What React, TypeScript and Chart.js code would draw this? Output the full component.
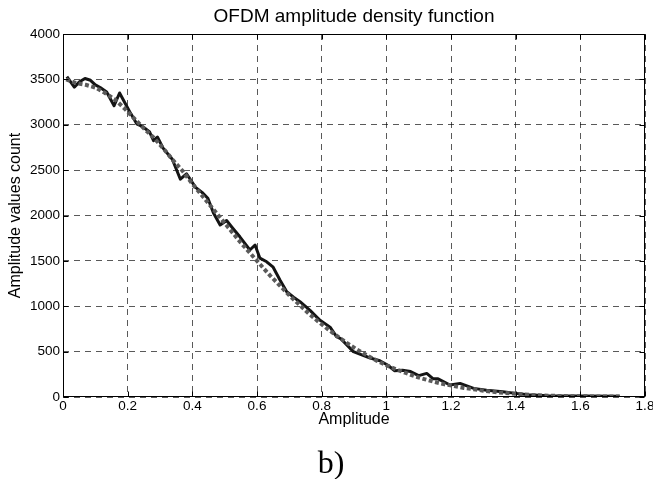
import React, { useEffect, useRef } from "react";
import { Chart, registerables } from "chart.js";

Chart.register(...registerables);

const titleText = "OFDM amplitude density function";
const xAxisTitle = "Amplitude";
const yAxisTitle = "Amplitude values count";
const panelLabel = "b)";

const xTicks = [0, 0.2, 0.4, 0.6, 0.8, 1, 1.2, 1.4, 1.6, 1.8];
const yTicks = [0, 500, 1000, 1500, 2000, 2500, 3000, 3500, 4000];

// measured histogram (solid black)
const measuredX = [
  0.012, 0.035, 0.05, 0.068, 0.085, 0.1, 0.115, 0.135, 0.158, 0.175, 0.19, 0.21,
  0.228, 0.248, 0.268, 0.28, 0.292, 0.31, 0.338, 0.363, 0.382, 0.41, 0.43, 0.448,
  0.465, 0.486, 0.506, 0.525, 0.547, 0.578, 0.594, 0.609, 0.63, 0.65, 0.671, 0.692,
  0.713, 0.733, 0.764, 0.795, 0.826, 0.846, 0.86, 0.898, 0.92, 0.95, 0.98, 1.005,
  1.025, 1.05, 1.075, 1.1, 1.125, 1.145, 1.16, 1.197, 1.228, 1.27, 1.31, 1.36,
  1.4, 1.44, 1.5, 1.6, 1.72,
];
const measuredY = [
  3530, 3415, 3470, 3510, 3490, 3440, 3410, 3360, 3210, 3350, 3250, 3120,
  3010, 2975, 2920, 2825, 2865, 2740, 2620, 2400, 2460, 2310, 2255, 2190,
  2030, 1895, 1945, 1860, 1765, 1620, 1675, 1530, 1490, 1430, 1290, 1160,
  1100, 1050, 955, 845, 770, 665, 640, 500, 470, 430, 400, 350,
  290, 295, 280, 235, 260, 200, 200, 132, 150, 95, 75, 58,
  40, 25, 15, 10, 8,
];

// theoretical density (dotted grey)
const theoryX = [
  0.01, 0.04, 0.07, 0.1, 0.13, 0.16, 0.19, 0.22, 0.25, 0.28, 0.31, 0.34, 0.37,
  0.4, 0.43, 0.46, 0.49, 0.52, 0.55, 0.58, 0.61, 0.64, 0.67, 0.7, 0.73, 0.76,
  0.79, 0.82, 0.85, 0.88, 0.91, 0.94, 0.97, 1.0, 1.03, 1.06, 1.09, 1.12, 1.15,
  1.18, 1.21, 1.24, 1.27, 1.3, 1.35, 1.4, 1.45, 1.5, 1.55, 1.6, 1.65, 1.73,
];
const theoryY = [
  3500, 3460, 3440, 3410, 3350, 3280, 3180, 3070, 2960, 2860, 2740, 2610, 2490,
  2350, 2220, 2090, 1960, 1830, 1700, 1580, 1460, 1340, 1230, 1120, 1020, 920,
  830, 745, 665, 590, 520, 460, 400, 350, 305, 265, 225, 195, 165,
  140, 120, 100, 85, 70, 50, 35, 22, 15, 10, 8, 6, 5,
];

const SANS = '"Liberation Sans", Arial, Helvetica, sans-serif';

export default function App() {
  const ref = useRef<HTMLCanvasElement | null>(null);

  useEffect(() => {
    if (!ref.current) return;

    const framePlugin = {
      id: "matlabFrame",
      afterDraw(chart: any) {
        const { ctx, chartArea } = chart;
        const { left, top, right, bottom } = chartArea;
        ctx.save();
        ctx.strokeStyle = "#000";
        ctx.lineWidth = 1;
        ctx.setLineDash([]);
        const l = Math.round(left) + 0.5;
        const r = Math.round(right) - 0.5;
        const t = Math.round(top) + 0.5;
        const b = Math.round(bottom) - 0.5;
        ctx.strokeRect(l, t, r - l, b - t);
        const xs = chart.scales.x;
        const ys = chart.scales.y;
        const tl = 5;
        ctx.beginPath();
        xTicks.forEach((v) => {
          const px = Math.round(xs.getPixelForValue(v)) + 0.5;
          ctx.moveTo(px, b);
          ctx.lineTo(px, b - tl);
          ctx.moveTo(px, t);
          ctx.lineTo(px, t + tl);
        });
        yTicks.forEach((v) => {
          const py = Math.round(ys.getPixelForValue(v)) + 0.5;
          ctx.moveTo(l, py);
          ctx.lineTo(l + tl, py);
          ctx.moveTo(r, py);
          ctx.lineTo(r - tl, py);
        });
        ctx.stroke();
        // panel label under the figure
        ctx.fillStyle = "#000";
        ctx.font = '32px "Liberation Serif", "Times New Roman", serif';
        ctx.textAlign = "center";
        ctx.textBaseline = "alphabetic";
        ctx.fillText(panelLabel, 331, 473);
        ctx.restore();
      },
    };

    const chart = new Chart(ref.current, {
      type: "line",
      data: {
        datasets: [
          {
            label: "theory",
            data: theoryX.map((x, i) => ({ x, y: theoryY[i] })),
            borderColor: "#5a5a5a",
            borderWidth: 4,
            borderDash: [4, 2.5],
            borderCapStyle: "butt",
            pointRadius: 0,
            tension: 0,
            order: 0,
          },
          {
            label: "measured",
            data: measuredX.map((x, i) => ({ x, y: measuredY[i] })),
            borderColor: "#141414",
            borderWidth: 3,
            borderJoinStyle: "round",
            pointRadius: 0,
            tension: 0,
            order: 1,
          },
        ],
      },
      options: {
        responsive: false,
        animation: false,
        devicePixelRatio: 1,
        layout: { padding: { top: 0, left: 0, right: 8, bottom: 27 } },
        plugins: {
          legend: { display: false },
          tooltip: { enabled: false },
          title: {
            display: true,
            text: titleText,
            fullSize: false,
            color: "#000",
            font: { family: SANS, size: 19, weight: "normal", lineHeight: 1.2 },
            padding: { top: 5.1, bottom: 6.1 },
          },
        },
        scales: {
          x: {
            type: "linear",
            min: 0,
            max: 1.8,
            afterBuildTicks: (scale: any) => {
              scale.ticks = xTicks.map((v) => ({ value: v }));
            },
            afterFit: (scale: any) => {
              scale.height = 55;
              scale.paddingLeft = 0;
              scale.paddingRight = 0;
            },
            ticks: {
              color: "#000",
              font: { family: SANS, size: 13.5, lineHeight: 1.2 },
              padding: 1,
              maxRotation: 0,
              autoSkip: false,
              callback: (v: any) => String(v),
            },
            grid: {
              color: "rgba(0,0,0,0.65)",
              lineWidth: 1,
              drawTicks: false,
            },
            border: { display: false, dash: [6, 5] },
            title: {
              display: true,
              text: xAxisTitle,
              color: "#000",
              font: { family: SANS, size: 16, lineHeight: 1.2 },
              padding: { top: 0, bottom: 22.4 },
            },
          },
          y: {
            type: "linear",
            min: 0,
            max: 4000,
            afterBuildTicks: (scale: any) => {
              scale.ticks = yTicks.map((v) => ({ value: v }));
            },
            afterFit: (scale: any) => {
              scale.width = 63;
              scale.paddingTop = 0;
              scale.paddingBottom = 0;
            },
            ticks: {
              color: "#000",
              font: { family: SANS, size: 13.5, lineHeight: 1.2 },
              padding: 3,
              autoSkip: false,
              callback: (v: any) => String(v),
            },
            grid: {
              color: "rgba(0,0,0,0.65)",
              lineWidth: 1,
              drawTicks: false,
            },
            border: { display: false, dash: [6, 5] },
            title: {
              display: true,
              text: yAxisTitle,
              color: "#000",
              font: { family: SANS, size: 16, lineHeight: 1.2 },
              padding: { top: 6.4, bottom: 0 },
            },
          },
        },
      },
      plugins: [framePlugin],
    } as any);

    return () => chart.destroy();
  }, []);

  return (
    <div style={{ position: "absolute", left: 0, top: 0, width: 653, height: 479, background: "#fff" }}>
      <canvas ref={ref} width={653} height={479} style={{ display: "block" }} />
    </div>
  );
}
